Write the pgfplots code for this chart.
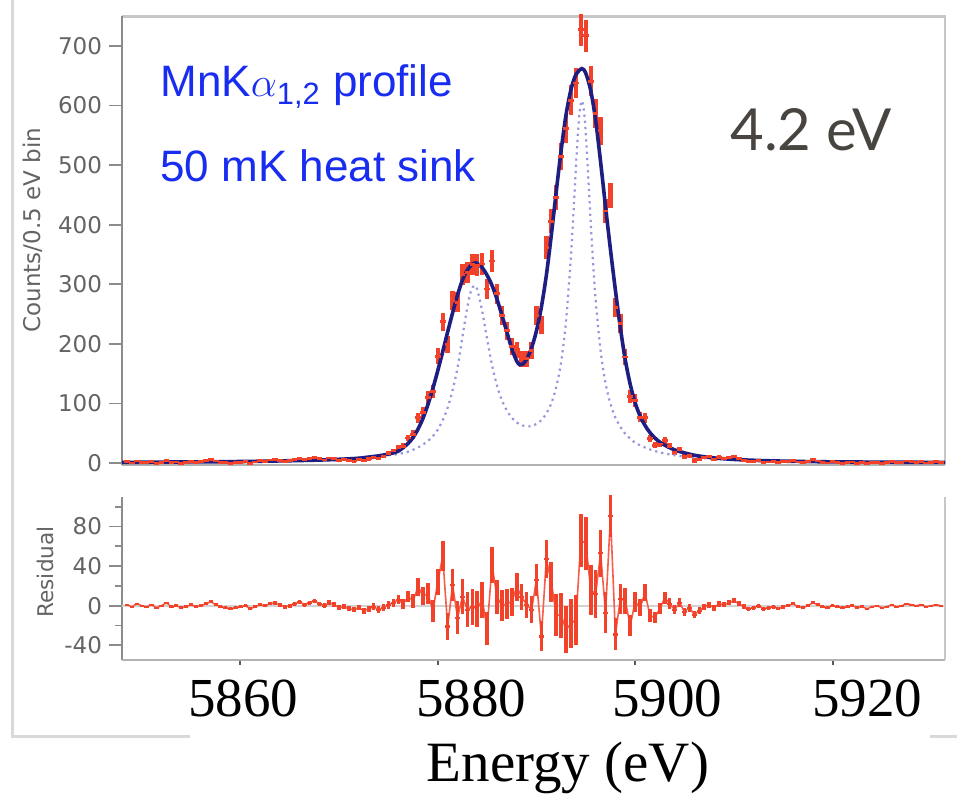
\documentclass[border=0pt]{standalone}
\usepackage{pgfplots}
\pgfplotsset{compat=1.18}
\usepackage{pgfplotstable}
\usepackage{fontspec}
\setmainfont{Liberation Sans}
\newfontfamily\dejavu{DejaVu Sans}
\newfontfamily\timesf{Liberation Serif}
\newfontfamily\gill{Lato}
\definecolor{datared}{RGB}{242,66,42}
\definecolor{fitnavy}{RGB}{30,30,130}
\definecolor{comp}{RGB}{150,150,220}
\definecolor{txtblue}{RGB}{25,45,240}
\definecolor{axgray}{RGB}{140,140,140}
\definecolor{lblgray}{RGB}{100,100,100}
\definecolor{darkt}{RGB}{72,68,63}

\pgfplotstableread{
E D e R
5848.5 2.1 1.0 1
5849.0 0.1 1.0 -1
5849.5 3.2 1.1 2
5850.0 1.2 1.1 0
5850.5 0.3 1.1 -1
5851.0 2.4 1.2 1
5851.5 -0.6 1.2 -2
5852.0 1.5 1.2 0
5852.5 4.5 1.2 3
5853.0 0.6 1.3 -1
5853.5 1.6 1.3 0
5854.0 -0.3 1.3 -2
5854.5 0.8 1.3 -1
5855.0 2.8 1.3 1
5855.5 0.9 1.4 -1
5856.0 2.0 1.4 0
5856.5 4.0 1.4 2
5857.0 6.1 1.4 4
5857.5 3.2 1.5 1
5858.0 1.2 1.5 -1
5858.5 0.3 1.5 -2
5859.0 -0.6 1.5 -3
5859.5 0.4 1.5 -2
5860.0 1.5 1.6 -1
5860.5 2.6 1.6 0
5861.0 -0.4 1.6 -3
5861.5 1.7 1.6 -1
5862.0 3.8 1.7 1
5862.5 2.9 1.7 0
5863.0 5.0 1.7 2
5863.5 6.2 1.8 3
5864.0 4.5 1.9 1
5864.5 2.7 1.9 -1
5865.0 3.8 1.9 0
5865.5 6.0 2.0 2
5866.0 8.2 2.0 4
5866.5 5.3 2.1 1
5867.0 7.5 2.1 3
5867.5 9.7 2.2 5
5868.0 7.0 2.2 2
5868.5 5.2 2.3 0
5869.0 8.5 2.3 3
5869.5 6.9 2.4 1
5870.0 4.2 2.5 -2
5870.5 5.6 2.6 -1
5871.0 4.0 2.6 -3
5871.5 3.5 2.7 -4
5872.0 6.0 2.8 -2
5872.5 4.0 3.0 -5
5873.0 7.0 3.2 -3
5873.5 10.0 3.3 -1
5874.0 8.0 3.5 -4
5874.5 11.5 3.7 -2
5875.0 16.0 3.9 1
5875.5 20.0 4.1 3
5876.0 26.0 4.5 6
5876.5 28.0 5.1 2
5877.0 42.0 5.7 9
5877.5 48 6.9 5
5878.0 76 8.7 19
5878.5 85 9.2 10
5879.0 110 10.5 12
5879.5 120 11.0 -5
5880.0 179 13.4 24
5880.5 237 15.4 50
5881.0 199 14.1 -21
5881.5 273 16.5 21
5882.0 270 16.4 -12
5882.5 316 17.8 9
5883.0 320 17.9 -4
5883.5 333 18.2 -1
5884.0 332 18.2 -3
5884.5 334 18.3 6
5885.0 292 17.1 -23
5885.5 339 18.4 41
5886.0 284 16.9 9
5886.5 248 15.7 0
5887.0 222 14.9 2
5887.5 196 14.0 4
5888.0 190 13.8 19
5888.5 175 13.2 9
5889.0 175 13.2 1
5889.5 189 13.7 -4
5890.0 248 15.7 26
5890.5 231 15.2 -31
5891.0 362 19.0 47
5891.5 406 20.1 24
5892.0 446 21.1 -9
5892.5 515 22.7 -10
5893.0 561 23.7 -24
5893.5 609 24.7 -18
5894.0 638 25.3 -14
5894.5 727 27.0 66
5895.0 717 26.8 63
5895.5 641 25.3 16
5896.0 587 24.2 12
5896.5 558 23.6 53
5897.0 423 20.6 -7
5897.5 449 21.2 91
5898.0 261 16.2 -29
5898.5 234 15.3 7
5899.0 178 13.3 5
5899.5 112 10.6 -20
5900.0 105 10.2 4
5900.5 77 8.8 -2
5901.0 76 8.7 13
5901.5 41 6.4 -10
5902.0 30 5.5 -12
5902.5 32 5.7 -3
5903.0 38 6.2 8
5903.5 28 5.3 2
5904.0 18 4.7 -4
5904.5 22.5 4.4 3
5905.0 11 4.1 -6
5905.5 13 3.9 -2
5906.0 4 3.6 -9
5906.5 6.7 3.4 -5
5907.0 9.5 3.2 -1
5907.5 10.5 3.1 1
5908.0 6.5 2.9 -2
5908.5 9.8 2.8 2
5909.0 8.2 2.7 1
5909.5 9.6 2.6 3
5910.0 11 2.4 5
5910.5 7.7 2.4 2
5911.0 4.3 2.3 -1
5911.5 2.0 2.2 -3
5912.0 2.7 2.2 -2
5912.5 4.3 2.1 0
5913.0 1.0 2.0 -3
5913.5 1.8 1.9 -2
5914.0 2.6 1.9 -1
5914.5 0.4 1.8 -3
5915.0 2.2 1.8 -1
5915.5 3.0 1.7 0
5916.0 4.8 1.7 2
5916.5 1.7 1.6 -1
5917.0 0.5 1.6 -2
5917.5 2.4 1.5 0
5918.0 5.3 1.5 3
5918.5 3.2 1.5 1
5919.0 1.1 1.4 -1
5919.5 0.0 1.4 -2
5920.0 1.9 1.4 0
5920.5 0.8 1.3 -1
5921.0 -0.2 1.3 -2
5921.5 0.7 1.3 -1
5922.0 1.7 1.3 0
5922.5 -0.4 1.3 -2
5923.0 0.6 1.3 -1
5923.5 -1.5 1.2 -3
5924.0 0.5 1.2 -1
5924.5 1.4 1.2 0
5925.0 -0.6 1.2 -2
5925.5 0.3 1.2 -1
5926.0 2.3 1.1 1
5926.5 0.2 1.1 -1
5927.0 1.2 1.1 0
5927.5 3.2 1.1 2
5928.0 2.1 1.1 1
5928.5 1.1 1.0 0
5929.0 2.1 1.0 1
5929.5 0.0 1.0 -1
5930.0 1.0 1.0 0
5930.5 2.0 1.0 1
5931.0 1.0 1.0 0
}\bins

\begin{document}
\begin{tikzpicture}
\useasboundingbox (0,0) rectangle (478.5pt,398pt);
\fill[white] (0,0) rectangle (478.5pt,398pt);
\draw[gray!30, line width=1.5pt] (6pt,398pt) -- (6pt,29.5pt) -- (95pt,29.5pt);
\draw[gray!30, line width=1.5pt] (465pt,29.5pt) -- (478.5pt,29.5pt);

% ---------- main spectrum ----------
\begin{axis}[
  at={(61pt,165.6pt)}, anchor=south west,
  scale only axis, width=411.5pt, height=224.3pt,
  xmin=5848, xmax=5931.4, ymin=-3, ymax=750,
  axis line style={draw=none},
  xtick=\empty,
  ytick={0,100,200,300,400,500,600,700},
  ytick pos=left,
  tick align=outside,
  major tick length=6.5pt,
  tick style={axgray, line width=0.9pt},
  yticklabel style={font=\dejavu\fontsize{11.5}{13}\selectfont, text=lblgray},
  /pgf/number format/assume math mode=true,
  clip=false,
]
\draw[gray!45, line width=1.4pt] (rel axis cs:0,1) -- (rel axis cs:1,1) -- (rel axis cs:1,0);
\draw[gray!60, line width=1.2pt] (rel axis cs:0,0) -- (rel axis cs:1,0);
\draw[axgray, line width=1.2pt] (rel axis cs:0,0) -- (rel axis cs:0,1);

\addplot[datared, only marks, mark=-, mark size=1.4pt, mark options={line width=1.4pt},
  error bars/.cd, y dir=both, y explicit, error mark=none,
  error bar style={datared, line width=2.2pt}]
  table[x=E, y=D, y error=e]{\bins};

\addplot[comp, line width=1.1pt, dotted, smooth] coordinates {
(5848,1.3) (5855,2) (5860,2.6) (5865,4) (5868,5.5) (5870,7) (5872,9) (5874,11.5)
(5875,13) (5876,15) (5877,19) (5878,26) (5878.5,31) (5879,37) (5879.5,45) (5880,56)
(5880.5,72) (5881,93) (5881.5,122) (5882,160) (5882.5,212) (5883,262) (5883.35,288)
(5883.7,298) (5884,291) (5884.5,255) (5885,208) (5885.5,164) (5886,130) (5886.5,105)
(5887,88) (5887.5,76) (5888,68) (5888.5,63.5) (5889,61.5) (5889.5,62) (5890,65.5)
(5890.5,72) (5891,83) (5891.5,100) (5892,127) (5892.5,170) (5893,239) (5893.5,349)
(5893.8,435) (5894.1,527) (5894.35,586) (5894.6,608) (5894.85,585) (5895.1,525)
(5895.4,433) (5895.7,346) (5896,273) (5896.5,188) (5897,134) (5897.5,99) (5898,76)
(5898.5,61) (5899,49) (5899.5,41) (5900,34) (5901,26) (5902,20) (5903,16) (5904,13)
(5905,11) (5907,8) (5910,5.4) (5915,3.3) (5920,2.2) (5925,1.6) (5931.4,1.2)};

\addplot[fitnavy, line width=1.8pt, smooth] coordinates {
(5848,1) (5852,1.5) (5856,2) (5860,2.5) (5864,3.5) (5867,4.5) (5869,5.5) (5871,7)
(5872,8) (5873,10) (5874,12) (5875,15) (5875.5,17) (5876,20) (5876.5,26) (5877,33)
(5877.5,43) (5878,57) (5878.5,75) (5879,98) (5879.5,125) (5880,155) (5880.5,187)
(5881,220) (5881.5,252) (5882,282) (5882.5,307) (5883,324) (5883.5,334) (5883.8,336)
(5884,335) (5884.5,328) (5885,315) (5885.5,298) (5886,275) (5886.5,248) (5887,220)
(5887.5,192) (5888,171) (5888.3,165) (5888.6,166) (5889,174) (5889.5,193) (5890,222)
(5890.5,262) (5891,315) (5891.5,382) (5892,455) (5892.5,525) (5893,585) (5893.5,627)
(5894,652) (5894.6,662) (5895,654) (5895.5,625) (5896,575) (5896.5,505) (5897,430)
(5897.5,358) (5898,290) (5898.5,227) (5899,173) (5899.5,132) (5900,101) (5900.5,79)
(5901,63) (5901.5,51) (5902,42) (5902.5,35) (5903,30) (5904,22) (5905,17) (5906,13)
(5907,10.5) (5908,8.5) (5910,6) (5913,4) (5917,2.5) (5922,1.7) (5931.4,1)};
\end{axis}

% ---------- residuals ----------
\begin{axis}[
  at={(61pt,67.9pt)}, anchor=south west,
  scale only axis, width=411.5pt, height=81.7pt,
  xmin=5848, xmax=5931.4, ymin=-55, ymax=110,
  axis line style={draw=none},
  xtick=\empty,
  extra x ticks={5860,5880,5900,5920},
  extra x tick labels={},
  extra x tick style={major tick length=2.5pt, tick style={gray!70!black, line width=1pt}},
  ytick={-40,0,40,80},
  minor ytick={-20,20,60,100},
  ytick pos=left, xtick pos=left,
  tick align=outside,
  major tick length=6.5pt, minor tick length=3.5pt,
  tick style={axgray, line width=0.9pt},
  yticklabel style={font=\dejavu\fontsize{11.5}{13}\selectfont, text=lblgray},
  /pgf/number format/assume math mode=true,
  clip=false,
]
\draw[axgray, line width=1.2pt] (rel axis cs:0,0) -- (rel axis cs:0,1);
\draw[gray!60, line width=1.2pt] (rel axis cs:0,0) -- (rel axis cs:1,0);
\draw[gray!45, line width=1.4pt] (rel axis cs:1,0) -- (rel axis cs:1,1);

\addplot[gray!35, line width=1pt] coordinates {(5848,0) (5931.4,0)};
\addplot[datared!85, line width=0.8pt] table[x=E, y=R]{\bins};
\addplot[datared, only marks, mark=-, mark size=1.1pt, mark options={line width=1.1pt},
  error bars/.cd, y dir=both, y explicit, error mark=none,
  error bar style={datared, line width=1.8pt}]
  table[x=E, y=R, y error=e]{\bins};
\end{axis}

% ---------- texts ----------
\node[anchor=base west, text=txtblue, font=\fontsize{22}{26}\selectfont, inner sep=0pt]
  at (80pt,349.5pt) {MnK$\alpha$\textsubscript{1,2} profile};
\node[anchor=base west, text=txtblue, font=\fontsize{22}{26}\selectfont, inner sep=0pt]
  at (80pt,307pt) {50 mK heat sink};
\node[anchor=base west, text=darkt, font=\gill\fontsize{29}{34}\selectfont, inner sep=0pt]
  at (365pt,322.75pt) {4.2 eV};
\node[rotate=90, text=lblgray, font=\dejavu\fontsize{11.5}{13}\selectfont]
  at (16.5pt,283pt) {Counts/0.5 eV bin};
\node[rotate=90, text=lblgray, font=\dejavu\fontsize{10.8}{12}\selectfont]
  at (22.5pt,112pt) {Residual};
\foreach \xx/\lab in {121.5/5860, 235.5/5880, 333.5/5900, 433.5/5920}
  \node[anchor=base, font=\timesf\fontsize{27.5}{30}\selectfont, inner sep=0pt] at (\xx pt,39.5pt) {\lab};
\node[anchor=base, font=\timesf\fontsize{28.5}{32}\selectfont, inner sep=0pt]
  at (284pt,7pt) {Energy (eV)};
\end{tikzpicture}
\end{document}
